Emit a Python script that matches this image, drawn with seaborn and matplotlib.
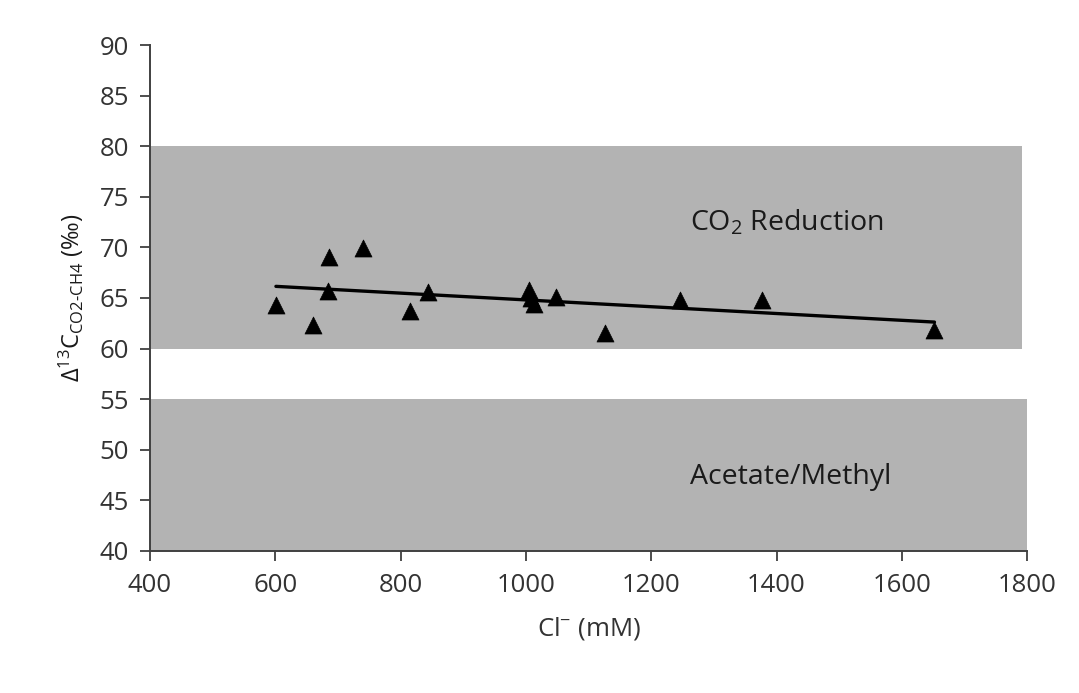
import numpy as np
import pandas as pd
import matplotlib
matplotlib.use("Agg")
import matplotlib.pyplot as plt
import seaborn as sns

# Data
chloride_mM = [601, 660, 686, 684, 740, 815, 844, 1005, 1008, 1013, 1048, 1126, 1246, 1377, 1652]
delta13C = [64.3, 62.3, 69.1, 65.7, 69.9, 63.7, 65.6, 65.8, 65.0, 64.4, 65.1, 61.5, 64.8, 64.8, 61.8]

x_ticks = [400, 600, 800, 1000, 1200, 1400, 1600, 1800]
y_ticks = [40, 45, 50, 55, 60, 65, 70, 75, 80, 85, 90]

band_labels = ["CO$_2$ Reduction", "Acetate/Methyl"]
band_low = [60, 40]
band_high = [80, 55]
band_right = [1791, 1800]

df = pd.DataFrame({"Cl": chloride_mM, "d13C": delta13C})

sns.set_theme(style="ticks")
plt.rcParams["font.family"] = ["Open Sans", "DejaVu Sans"]
plt.rcParams["mathtext.fontset"] = "custom"
plt.rcParams["mathtext.rm"] = "Open Sans"
plt.rcParams["mathtext.it"] = "Open Sans:italic"
plt.rcParams["mathtext.bf"] = "Open Sans:bold"

fig = plt.figure(figsize=(10.79, 6.93), dpi=100)
ax = fig.add_axes([0.139, 0.205, 0.813, 0.73])

grey = "#b3b3b3"
for lo, hi, right in zip(band_low, band_high, band_right):
    ax.fill_between([400, right], lo, hi, color=grey, linewidth=0, zorder=0)

sns.regplot(data=df, x="Cl", y="d13C", ax=ax, scatter=False, ci=None,
            truncate=True, color="black", line_kws={"linewidth": 2.4, "zorder": 2})
sns.scatterplot(data=df, x="Cl", y="d13C", ax=ax, marker="^", s=150,
                color="black", edgecolor="black", linewidth=0.5, zorder=3)

ax.text(1417, 72.4, band_labels[0], fontsize=20.5, ha="center", va="center", color="#1a1a1a")
ax.text(1423, 47.3, band_labels[1], fontsize=20.5, ha="center", va="center", color="#1a1a1a")

ax.set_xlim(400, 1800)
ax.set_ylim(40, 90)
ax.set_xticks(x_ticks)
ax.set_yticks(y_ticks)
ax.tick_params(axis="both", labelsize=18.5, colors="#404040", labelcolor="#333333",
               length=7, width=1.3, direction="out")
ax.tick_params(axis="y", pad=8)
ax.tick_params(axis="x", pad=9)
for side in ["top", "right"]:
    ax.spines[side].set_visible(False)
for side in ["left", "bottom"]:
    ax.spines[side].set_color("#404040")
    ax.spines[side].set_linewidth(1.4)

ax.set_xlabel("Cl$^{-}$ (mM)", fontsize=18.5, color="#333333", labelpad=12)
ax.set_ylabel(r"$\Delta^{13}$C$_{\mathrm{CO2\text{-}CH4}}$ (‰)", fontsize=17, color="#1a1a1a", labelpad=10)

fig.savefig("out.png", dpi=100, facecolor="white")
